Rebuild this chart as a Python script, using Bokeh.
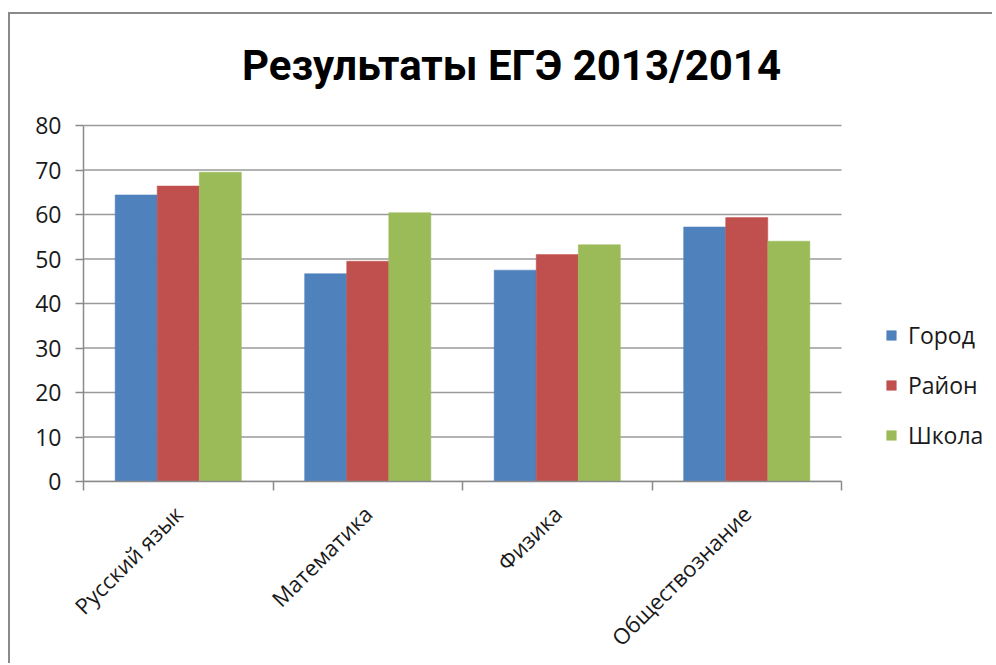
from bokeh.plotting import figure
from bokeh.models import (ColumnDataSource, Range1d, FixedTicker, Legend, LegendItem)
from bokeh.core.properties import value
from bokeh.embed import file_html
from bokeh.resources import INLINE

title_text = "Результаты ЕГЭ 2013/2014"
categories = ["Русский язык", "Математика", "Физика", "Обществознание"]
series_names = ["Город", "Район", "Школа"]
gorod = [64.4, 46.7, 47.5, 57.2]
rayon = [66.4, 49.5, 51.0, 59.3]
shkola = [69.5, 60.4, 53.2, 54.0]
y_ticks = [0, 10, 20, 30, 40, 50, 60, 70, 80]

colors = ["#4F81BD", "#C0504D", "#9BBB59"]
values = [gorod, rayon, shkola]
offsets = [-0.222, 0.0, 0.222]
bar_w = 0.222

# layout (page pixels)
W, H = 984, 651
ORG_X, ORG_Y = 10, 14          # figure content origin on the page
AX_L, AX_R = 83, 841           # category axis span
AX_B, AX_T = 481, 125          # value axis: 0 and 80
MB_L, MB_T, MB_R = AX_L - ORG_X, 10, 2
MB_B = ORG_Y + H - AX_B
n_cat = len(categories)
y_top_val = y_ticks[-1]
px_per_x = (AX_R - AX_L) / n_cat
px_per_y = (AX_B - AX_T) / y_top_val
frame_right = ORG_X + W - MB_R
frame_top = ORG_Y + MB_T
x_max = (frame_right - AX_L) / px_per_x
y_max = (AX_B - frame_top) / px_per_y

p = figure(width=W, height=H, output_backend="svg", toolbar_location=None,
           x_range=Range1d(0, x_max), y_range=Range1d(0, y_max),
           min_border_left=MB_L, min_border_right=MB_R, min_border_top=MB_T,
           min_border_bottom=MB_B)
p.styles = {"border-top": "2px solid #8a8a8a", "border-left": "2px solid #8a8a8a",
            "margin-left": "8px", "margin-top": "12px"}
p.outline_line_color = None
p.background_fill_color = "white"
p.border_fill_color = "white"
p.xgrid.visible = False
p.ygrid.visible = False

# horizontal gridlines over the category span only
grid_src = ColumnDataSource(dict(x0=[0] * len(y_ticks), x1=[n_cat] * len(y_ticks), y=y_ticks))
p.segment(x0="x0", x1="x1", y0="y", y1="y", source=grid_src,
          line_color="#9a9a9a", line_width=1.5, level="underlay")

renderers = []
for name, vals, off, col in zip(series_names, values, offsets, colors):
    src = ColumnDataSource(dict(x=[i + 0.5 + off for i in range(n_cat)], top=vals))
    r = p.vbar(x="x", top="top", width=bar_w, bottom=0, source=src,
               fill_color=col, line_color=col, line_width=0.5)
    renderers.append((name, r))

# y axis
p.yaxis.bounds = (0, y_top_val)
p.yaxis.ticker = FixedTicker(ticks=y_ticks)
p.yaxis.axis_line_color = "#8a8a8a"
p.yaxis.axis_line_width = 1.5
p.yaxis.major_tick_line_color = "#8a8a8a"
p.yaxis.major_tick_line_width = 1.5
p.yaxis.major_tick_out = 8
p.yaxis.major_tick_in = 0
p.yaxis.minor_tick_line_color = None
p.yaxis.major_label_text_font = "Open Sans"
p.yaxis.major_label_text_font_size = "23px"
p.yaxis.major_label_text_color = "#1a1a1a"
p.yaxis.major_label_standoff = 14

# x axis
centers = [i + 0.5 for i in range(n_cat)]
p.xaxis.bounds = (0, n_cat)
p.xaxis.ticker = FixedTicker(ticks=centers, minor_ticks=list(range(n_cat + 1)))
p.xaxis.major_label_overrides = {c: lab for c, lab in zip(centers, categories)}
p.xaxis.major_tick_line_color = None
p.xaxis.minor_tick_line_color = "#8a8a8a"
p.xaxis.minor_tick_line_width = 1.5
p.xaxis.minor_tick_out = 9
p.xaxis.minor_tick_in = 0
p.xaxis.axis_line_color = "#8a8a8a"
p.xaxis.axis_line_width = 1.5
p.xaxis.major_label_orientation = 0.785398
p.xaxis.major_label_text_font = "Open Sans"
p.xaxis.major_label_text_font_size = "22px"
p.xaxis.major_label_text_color = "#1a1a1a"
p.xaxis.major_label_standoff = 19

# title (inside the extended frame)
title_x = (511 - AX_L) / px_per_x
title_y = (AX_B - 64.5) / px_per_y
p.text(x=[title_x], y=[title_y], text=[title_text], text_align="center",
       text_baseline="middle", text_font=value("Roboto"), text_font_style="bold",
       text_font_size="42px", text_color="black")

legend = Legend(items=[LegendItem(label=n, renderers=[r]) for n, r in renderers],
                location=(885 - AX_L, AX_B - 451), orientation="vertical")
legend.padding = 0
legend.margin = 0
legend.border_line_color = None
legend.background_fill_alpha = 0
legend.glyph_width = 12
legend.glyph_height = 12
legend.label_height = 24
legend.spacing = 18
legend.label_standoff = 11
legend.label_text_font = "Open Sans"
legend.label_text_font_size = "23px"
legend.label_text_color = "#1a1a1a"
p.add_layout(legend, "center")

open("out.html", "w").write(file_html(p, INLINE))
